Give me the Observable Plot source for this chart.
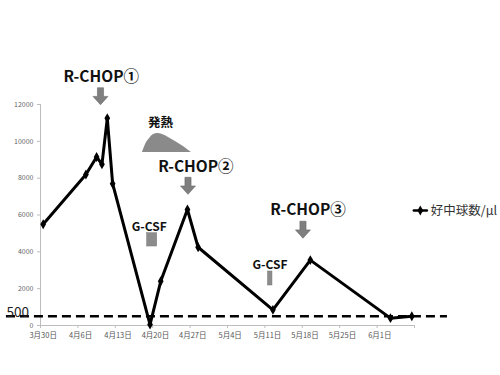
<!DOCTYPE html>
<html><head><meta charset="utf-8">
<script src="https://cdn.jsdelivr.net/npm/d3@7"></script>
<script src="https://cdn.jsdelivr.net/npm/@observablehq/plot@0.6"></script>
<style>html,body{margin:0;padding:0;background:#fff;} #chart{width:500px;height:375px;}</style>
</head><body><div id="chart"></div>
<script>
// ---- data ----
const dates = ["2013-03-30","2013-04-07","2013-04-09","2013-04-10","2013-04-11","2013-04-12","2013-04-19","2013-04-21","2013-04-26","2013-04-28","2013-05-12","2013-05-19","2013-06-03","2013-06-07"];
const neutrophils = [5500,8200,9150,8750,11250,7700,50,2400,6300,4250,850,3550,400,500];
const seriesName = "好中球数/μl";

const xDomain = ["2013-03-30","2013-06-08"];
const xTicks = ["2013-03-30","2013-04-06","2013-04-13","2013-04-20","2013-04-27","2013-05-04","2013-05-11","2013-05-18","2013-05-25","2013-06-01","2013-06-08"];
const xTickLabels = ["3月30日","4月6日","4月13日","4月20日","4月27日","5月4日","5月11日","5月18日","5月25日","6月1日",""];
const yDomain = [0, 12000];
const yTicks = [0,2000,4000,6000,8000,10000,12000];

const threshold = 500;
const thresholdLabel = "500";
const thresholdSpan = ["2013-03-23T15:00","2013-06-14T04:00"];

const chopLabels = ["R-CHOP①","R-CHOP②","R-CHOP③"];
const chopLabelDates = ["2013-04-10T09:00","2013-04-28T02:00","2013-05-19T02:00"];
const chopLabelValues = [13500, 8594, 6243];
const chopArrowDates = ["2013-04-10T05:30","2013-04-26T14:30","2013-05-18T03:00"];
const chopArrowValues = [12448, 7584, 5201];

const gcsfLabel = "G-CSF";
const gcsfLabelDates = ["2013-04-19T08:40","2013-05-11T23:00"];
const gcsfLabelValues = [5337, 3257];
const gcsfStart = ["2013-04-18T23:15","2013-05-11T14:00"];
const gcsfEnd = ["2013-04-20T20:00","2013-05-12T10:00"];
const gcsfTop = [5011, 2932];
const gcsfBottom = [4289, 2172];

const feverLabel = "発熱";
const feverLabelDate = "2013-04-21T11:00";
const feverLabelValue = 10994;
const feverDates = ["2013-04-18T02:00","2013-04-18T16:00","2013-04-19T10:00","2013-04-20T04:00","2013-04-20T22:00","2013-04-21T20:00","2013-04-22T23:00","2013-04-24T06:00","2013-04-25T18:00","2013-04-27T06:00"];
const feverValues = [9392, 9826, 10152, 10369, 10423, 10369, 10206, 9989, 9718, 9392];
const feverBase = 9392;

const legendLineDates = ["2013-06-07T21:00","2013-06-10T07:30"];
const legendMarkerDate = "2013-06-09T02:00";
const legendTextDate = "2013-06-11T01:30";
const legendValue = 6243;

// ---- helpers ----
const D = s => new Date(s + (s.length > 10 ? ":00Z" : "T00:00:00Z"));
const dayCenter = d => d3.utcHour.offset(D(d), 12);

const series = dates.map((d, i) => ({date: dayCenter(d), value: neutrophils[i]}));
const chops = chopLabels.map((l, i) => ({label: l, date: D(chopLabelDates[i]), value: chopLabelValues[i]}));
const arrows = chopArrowDates.map((d, i) => ({date: D(d), value: chopArrowValues[i]}));
const gcsfText = gcsfLabelDates.map((d, i) => ({label: gcsfLabel, date: D(d), value: gcsfLabelValues[i]}));
const gcsfBars = gcsfStart.map((d, i) => ({x1: D(d), x2: D(gcsfEnd[i]), y1: gcsfBottom[i], y2: gcsfTop[i]}));
const fever = feverDates.map((d, i) => ({date: D(d), value: feverValues[i]}));
const legendLine = legendLineDates.map(d => ({date: D(d), value: legendValue}));

const arrowSymbol = {
  draw(ctx, size) {
    const r = Math.sqrt(size / Math.PI);
    const sw = 0.36 * r, hw = 0.88 * r, mid = 0.02 * r;
    ctx.moveTo(-sw, -r); ctx.lineTo(sw, -r); ctx.lineTo(sw, mid);
    ctx.lineTo(hw, mid); ctx.lineTo(0, r); ctx.lineTo(-hw, mid);
    ctx.lineTo(-sw, mid); ctx.closePath();
  }
};

const chart = Plot.plot({
  width: 500, height: 375,
  marginLeft: 40, marginRight: 86, marginTop: 104, marginBottom: 50,
  x: {type: "utc", domain: xDomain.map(D), axis: null},
  y: {domain: yDomain, axis: null},
  style: {fontFamily: "'Noto Sans CJK JP', 'Noto Sans', sans-serif", background: "#fff", overflow: "visible"},
  marks: [
    Plot.areaY(fever, {x: "date", y1: () => feverBase, y2: "value", curve: "monotone-x", fill: "#8a8a8a"}),
    Plot.rect(gcsfBars, {x1: "x1", x2: "x2", y1: "y1", y2: "y2", fill: "#8c8c8c", stroke: "#777", strokeWidth: 0.5}),
    Plot.ruleX([D(xDomain[0])], {stroke: "#bdbdbd"}),
    Plot.ruleY([yDomain[0]], {stroke: "#bdbdbd"}),
    Plot.axisY({ticks: yTicks, tickSize: 3, tickPadding: 4, tickFormat: d3.format("d"), fontSize: 7, fill: "#666", stroke: "#bdbdbd", label: null}),
    Plot.axisX({ticks: xTicks.map(D), tickSize: 3, fill: "none", stroke: "#bdbdbd", label: null}),
    Plot.axisX({ticks: xTicks.map(D), tickSize: 0, tickPadding: 7, dx: 2.7, tickFormat: (d, i) => xTickLabels[i], fontSize: 7.5, fill: "#555", label: null}),
    Plot.ruleY([threshold], {x1: D(thresholdSpan[0]), x2: D(thresholdSpan[1]), stroke: "#000", strokeWidth: 2.5, strokeDasharray: "9,5"}),
    Plot.text([thresholdLabel], {x: D(thresholdSpan[0]), y: threshold, text: d => d, textAnchor: "start", lineAnchor: "bottom", dy: 1, fontSize: 13.5, fill: "#222"}),
    Plot.line(series, {x: "date", y: "value", stroke: "#000", strokeWidth: 3, strokeLinejoin: "miter"}),
    Plot.dot(series, {x: "date", y: "value", symbol: "diamond", r: 3, fill: "#000"}),
    Plot.dot(arrows, {x: "date", y: "value", symbol: arrowSymbol, r: 8.5, fill: "#7f7f7f", stroke: "#6a6a6a", strokeWidth: 0.6}),
    Plot.text(chops, {x: "date", y: "value", text: "label", fontSize: 15.5, fontWeight: "bold", fill: "#111"}),
    Plot.text(gcsfText, {x: "date", y: "value", text: "label", fontSize: 12, fontWeight: "bold", fill: "#111"}),
    Plot.text([feverLabel], {x: D(feverLabelDate), y: feverLabelValue, text: d => d, fontSize: 12.5, fontWeight: "bold", fill: "#111"}),
    Plot.line(legendLine, {x: "date", y: "value", stroke: "#000", strokeWidth: 2.5}),
    Plot.dot([legendValue], {x: D(legendMarkerDate), y: d => d, symbol: "diamond", r: 3, fill: "#000"}),
    Plot.text([seriesName], {x: D(legendTextDate), y: legendValue, text: d => d, textAnchor: "start", fontSize: 12.5, fill: "#333"})
  ]
});
document.getElementById("chart").append(chart);
</script>
</body></html>
